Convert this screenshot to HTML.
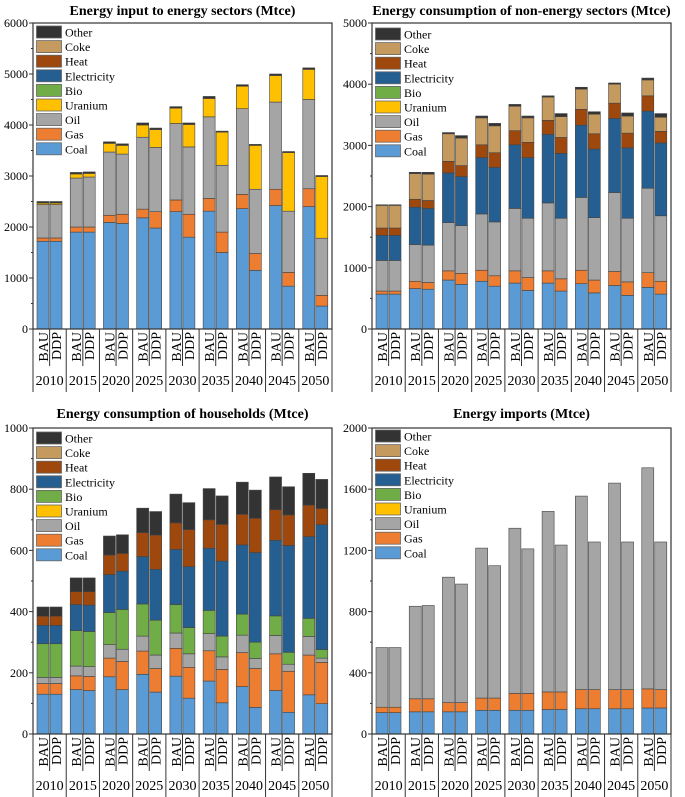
<!DOCTYPE html>
<html><head><meta charset="utf-8">
<style>
html,body{margin:0;padding:0;background:#fff;}
svg{display:block;font-family:"Liberation Serif",serif;}
</style></head>
<body>
<svg id="fig" width="685" height="797" viewBox="0 0 685 797"></svg>
<script>
const years = ["2010","2015","2020","2025","2030","2035","2040","2045","2050"];
const scenarios = ["BAU","DDP"];
const seriesNames = ["Coal","Gas","Oil","Uranium","Bio","Electricity","Heat","Coke","Other"];
const seriesColors = ["#5b9bd5","#ed7d31","#a5a5a5","#ffc000","#70ad47","#255e91","#9e480e","#c49a5e","#333333"];

// Panel 1: Energy input to energy sectors
const p1Coal = [1720,1720,1900,1900,2090,2070,2180,1980,2300,1800,2310,1500,2360,1150,2420,840,2400,450];
const p1Gas = [65,65,100,100,140,180,170,320,230,450,250,400,280,330,320,270,350,210];
const p1Oil = [655,655,960,980,1240,1180,1410,1260,1500,1320,1600,1310,1680,1260,1710,1200,1750,1120];
const p1Uranium = [30,30,80,70,170,170,240,350,300,440,360,650,440,860,520,1150,590,1210];
const p1Other = [30,30,30,30,30,30,40,30,30,30,40,20,30,20,30,20,30,20];
const p1Ticks = [0,1000,2000,3000,4000,5000,6000];

// Panel 2: non-energy sectors
const p2Coal = [570,570,660,650,800,730,780,700,750,630,750,620,740,590,710,550,680,570];
const p2Gas = [50,50,120,110,150,180,180,170,200,210,200,200,220,210,230,220,240,210];
const p2Oil = [500,500,600,610,790,780,920,880,1020,970,1110,990,1190,1020,1290,1040,1380,1070];
const p2Elec = [410,410,610,600,810,800,920,890,1040,990,1120,1060,1180,1120,1210,1150,1260,1190];
const p2Heat = [120,120,130,130,190,180,210,240,230,250,230,260,260,250,250,240,250,190];
const p2Coke = [370,370,420,430,450,450,440,440,400,400,380,340,330,320,310,280,260,230];
const p2Other = [10,10,20,30,20,40,30,40,30,30,20,50,30,40,20,50,30,60];
const p2Ticks = [0,1000,2000,3000,4000,5000];

// Panel 3: households
const p3Coal = [130,130,145,142,187,145,195,137,189,117,173,102,155,87,142,71,128,99];
const p3Gas = [35,35,45,46,61,92,76,77,91,101,99,109,111,127,120,134,130,135];
const p3Oil = [20,20,32,32,44,40,49,44,50,44,56,41,57,33,60,23,61,14];
const p3Bio = [110,110,116,115,105,130,105,114,93,86,76,68,69,53,64,39,59,28];
const p3Elec = [60,60,85,86,124,125,155,166,180,199,203,245,226,293,247,349,267,408];
const p3Heat = [30,30,42,44,64,58,78,112,87,121,93,120,100,112,100,100,103,53];
const p3Other = [30,30,45,45,62,61,80,77,94,88,102,93,105,92,107,92,104,95];
const p3Ticks = [0,200,400,600,800,1000];

// Panel 4: imports
const p4Coal = [140,140,145,145,145,145,155,155,155,155,160,160,165,165,165,165,170,170];
const p4Gas = [35,35,85,85,60,60,80,80,110,110,115,115,125,125,125,125,125,120];
const p4Oil = [390,390,605,610,820,775,980,865,1080,945,1180,960,1265,965,1350,965,1445,965];
const p4Ticks = [0,400,800,1200,1600,2000];

const NS="http://www.w3.org/2000/svg";
const svg=document.getElementById('fig');
function mk(tag,attrs,parent){const e=document.createElementNS(NS,tag);for(const k in attrs)e.setAttribute(k,attrs[k]);(parent||svg).appendChild(e);return e;}

const panels=[
 {key:'input',title:'Energy input to energy sectors (Mtce)',x0:33,x1:332,yTop:23,yBot:329,max:6000,ticks:p1Ticks,titleY:15,legY:26,
  series:{Coal:p1Coal,Gas:p1Gas,Oil:p1Oil,Uranium:p1Uranium,Other:p1Other}},
 {key:'nonenergy',title:'Energy consumption of non-energy sectors (Mtce)',x0:372,x1:671,yTop:23,yBot:329,max:5000,ticks:p2Ticks,titleY:15,legY:28,
  series:{Coal:p2Coal,Gas:p2Gas,Oil:p2Oil,Electricity:p2Elec,Heat:p2Heat,Coke:p2Coke,Other:p2Other}},
 {key:'households',title:'Energy consumption of households (Mtce)',x0:33,x1:332,yTop:428,yBot:734,max:1000,ticks:p3Ticks,titleY:418,legY:432,
  series:{Coal:p3Coal,Gas:p3Gas,Oil:p3Oil,Bio:p3Bio,Electricity:p3Elec,Heat:p3Heat,Other:p3Other}},
 {key:'imports',title:'Energy imports (Mtce)',x0:372,x1:671,yTop:428,yBot:734,max:2000,ticks:p4Ticks,titleY:418,legY:430,
  series:{Coal:p4Coal,Gas:p4Gas,Oil:p4Oil}}
];

panels.forEach(p=>{
  const g=mk('g',{});
  
  
  const yS=v=>p.yBot-(v/p.max)*(p.yBot-p.yTop);
  const gw=(p.x1-p.x0)/years.length;
  const bw=12;
  const xBar=i=>p.x0+Math.floor(i/2)*gw+(i%2===0?4:17);
  const t=mk('text',{x:(p.x0+p.x1)/2,y:p.titleY,'text-anchor':'middle','font-size':'14','font-weight':'bold',fill:'#000'},g);
  t.textContent=p.title;
  
  
  for(let i=0;i<years.length*2;i++){
    let acc=0;
    seriesNames.forEach((s,si)=>{
      const arr=p.series[s]; if(!arr) return;
      const v=arr[i]; if(!v) return;
      const yt=yS(acc+v), yb=yS(acc);
      const r=mk('rect',{x:xBar(i),y:yt,width:bw,height:Math.max(0.5,yb-yt),fill:seriesColors[si],stroke:'#444','stroke-width':'0.6'},g);
      
      
      acc+=v;
    });
  }
  const fr=mk('rect',{x:p.x0,y:p.yTop,width:p.x1-p.x0,height:p.yBot-p.yTop,fill:'none',stroke:'#333','stroke-width':'1.2'},g);
  
  
  p.ticks.forEach((tv,ti)=>{
    const y=yS(tv);
    mk('line',{x1:p.x0-4,x2:p.x0,y1:y,y2:y,stroke:'#333','stroke-width':'1'},g);
    const lb=mk('text',{x:p.x0-5,y:y+4,'text-anchor':'end','font-size':'12',fill:'#000'},g);
    lb.textContent=tv;
    
    
    if(ti<p.ticks.length-1){
      const ym=yS((tv+p.ticks[ti+1])/2);
      mk('line',{x1:p.x0-2,x2:p.x0,y1:ym,y2:ym,stroke:'#333','stroke-width':'1'},g);
    }
  });
  const labBottom=p.yBot+37, yrBottom=p.yBot+63;
  for(let k=0;k<=years.length;k++){
    const x=p.x0+k*gw;
    mk('line',{x1:x,x2:x,y1:p.yBot,y2:yrBottom,stroke:'#333','stroke-width':'1'},g);
  }
  for(let k=0;k<years.length;k++){
    const xm=p.x0+k*gw+gw/2;
    mk('line',{x1:xm,x2:xm,y1:p.yBot,y2:labBottom,stroke:'#333','stroke-width':'1'},g);
    [0,1].forEach(j=>{
      const cx=xBar(k*2+j)+bw/2;
      const tt=mk('text',{x:0,y:0,'text-anchor':'end','font-size':'14',fill:'#000',transform:`translate(${cx+5},${p.yBot+3}) rotate(-90)`},g);
      tt.textContent=scenarios[j];
      
      
    });
    const yl=mk('text',{x:xm,y:p.yBot+56,'text-anchor':'middle','font-size':'14',fill:'#000'},g);
    yl.textContent=years[k];
    
    
  }
  const leg=mk('g',{},g);
  
  
  const order=[8,7,6,5,4,3,2,1,0];
  order.forEach((si,r)=>{
    const y=p.legY+r*14.6;
    const sw=mk('rect',{x:p.x0+3.5,y:y,width:25,height:12,fill:seriesColors[si],stroke:'#666','stroke-width':'0.8'},leg);
    
    
    const lt=mk('text',{x:p.x0+32,y:y+10.5,'font-size':'12',fill:'#000'},leg);
    lt.textContent=seriesNames[si];
    
    
  });
});
</script>
</body></html>
